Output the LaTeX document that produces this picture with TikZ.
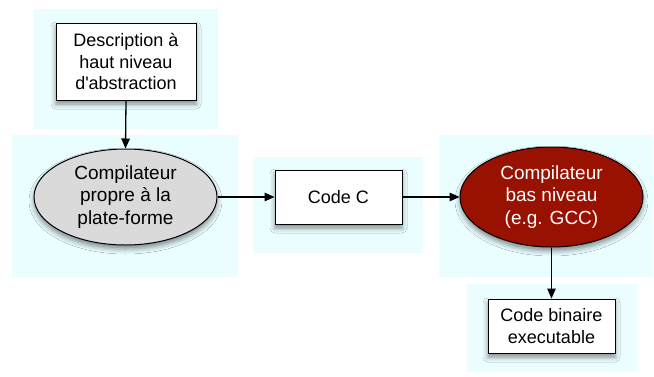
\documentclass[tikz,border=0pt]{standalone}
\usepackage{fontspec}
\setmainfont{Liberation Sans}
\usetikzlibrary{shapes.geometric,arrows.meta,shadows.blur}
\definecolor{halo}{HTML}{EAFDFF}
\definecolor{greyfill}{HTML}{DADADA}
\definecolor{redfill}{HTML}{991100}
\tikzset{
  halobg/.style={fill=halo},
  shad/.style={blur shadow={shadow xshift=0pt, shadow yshift=-4pt, shadow blur radius=5pt, shadow opacity=45}},
  boxnode/.style={rectangle, draw=black, line width=1pt, fill=white, shad, align=center, inner sep=0pt,
    font=\fontsize{18}{21.5}\selectfont},
  ellnode/.style={ellipse, draw=black, line width=1pt, shad, align=center, inner sep=0pt,
    font=\fontsize{19}{22.5}\selectfont},
  conn/.style={line width=1.3pt, -{Triangle[length=10pt,width=8.5pt]}}
}
\begin{document}
\begin{tikzpicture}[x=1pt,y=-1pt]
\useasboundingbox (0,0) rectangle (654,376);
\fill[white] (0,0) rectangle (654,376);
% halos
\fill[halobg] (34,9) rectangle (218,129);
\fill[halobg] (12,135) rectangle (238,277);
\fill[halobg] (253,157) rectangle (423,253);
\fill[halobg] (439,135) rectangle (653,277);
\fill[halobg] (467,284) rectangle (637,372);
% nodes
\node[boxnode, minimum width=140pt, minimum height=77pt] (desc) at (126,61.5) {Description à\\haut niveau\\d\textquotesingle abstraction};
\node[ellnode, fill=greyfill, minimum width=183pt, minimum height=96pt] (comp1) at (125.5,197) {Compilateur\\propre à la\\plate-forme};
\node[boxnode, minimum width=127pt, minimum height=54pt] (codec) at (338.5,197) {Code C};
\node[ellnode, fill=redfill, text=white, minimum width=183pt, minimum height=100pt] (comp2) at (551.5,197) {Compilateur\\bas niveau\\(e.g. GCC)};
\node[boxnode, minimum width=127pt, minimum height=54pt] (bin) at (551.5,326) {Code binaire\\executable};
% connectors
\draw[conn] (desc.south) -- (comp1.north);
\draw[conn] (comp1.east) -- (codec.west);
\draw[conn] (codec.east) -- (comp2.west);
\draw[conn] (comp2.south) -- (bin.north);
\end{tikzpicture}
\end{document}
